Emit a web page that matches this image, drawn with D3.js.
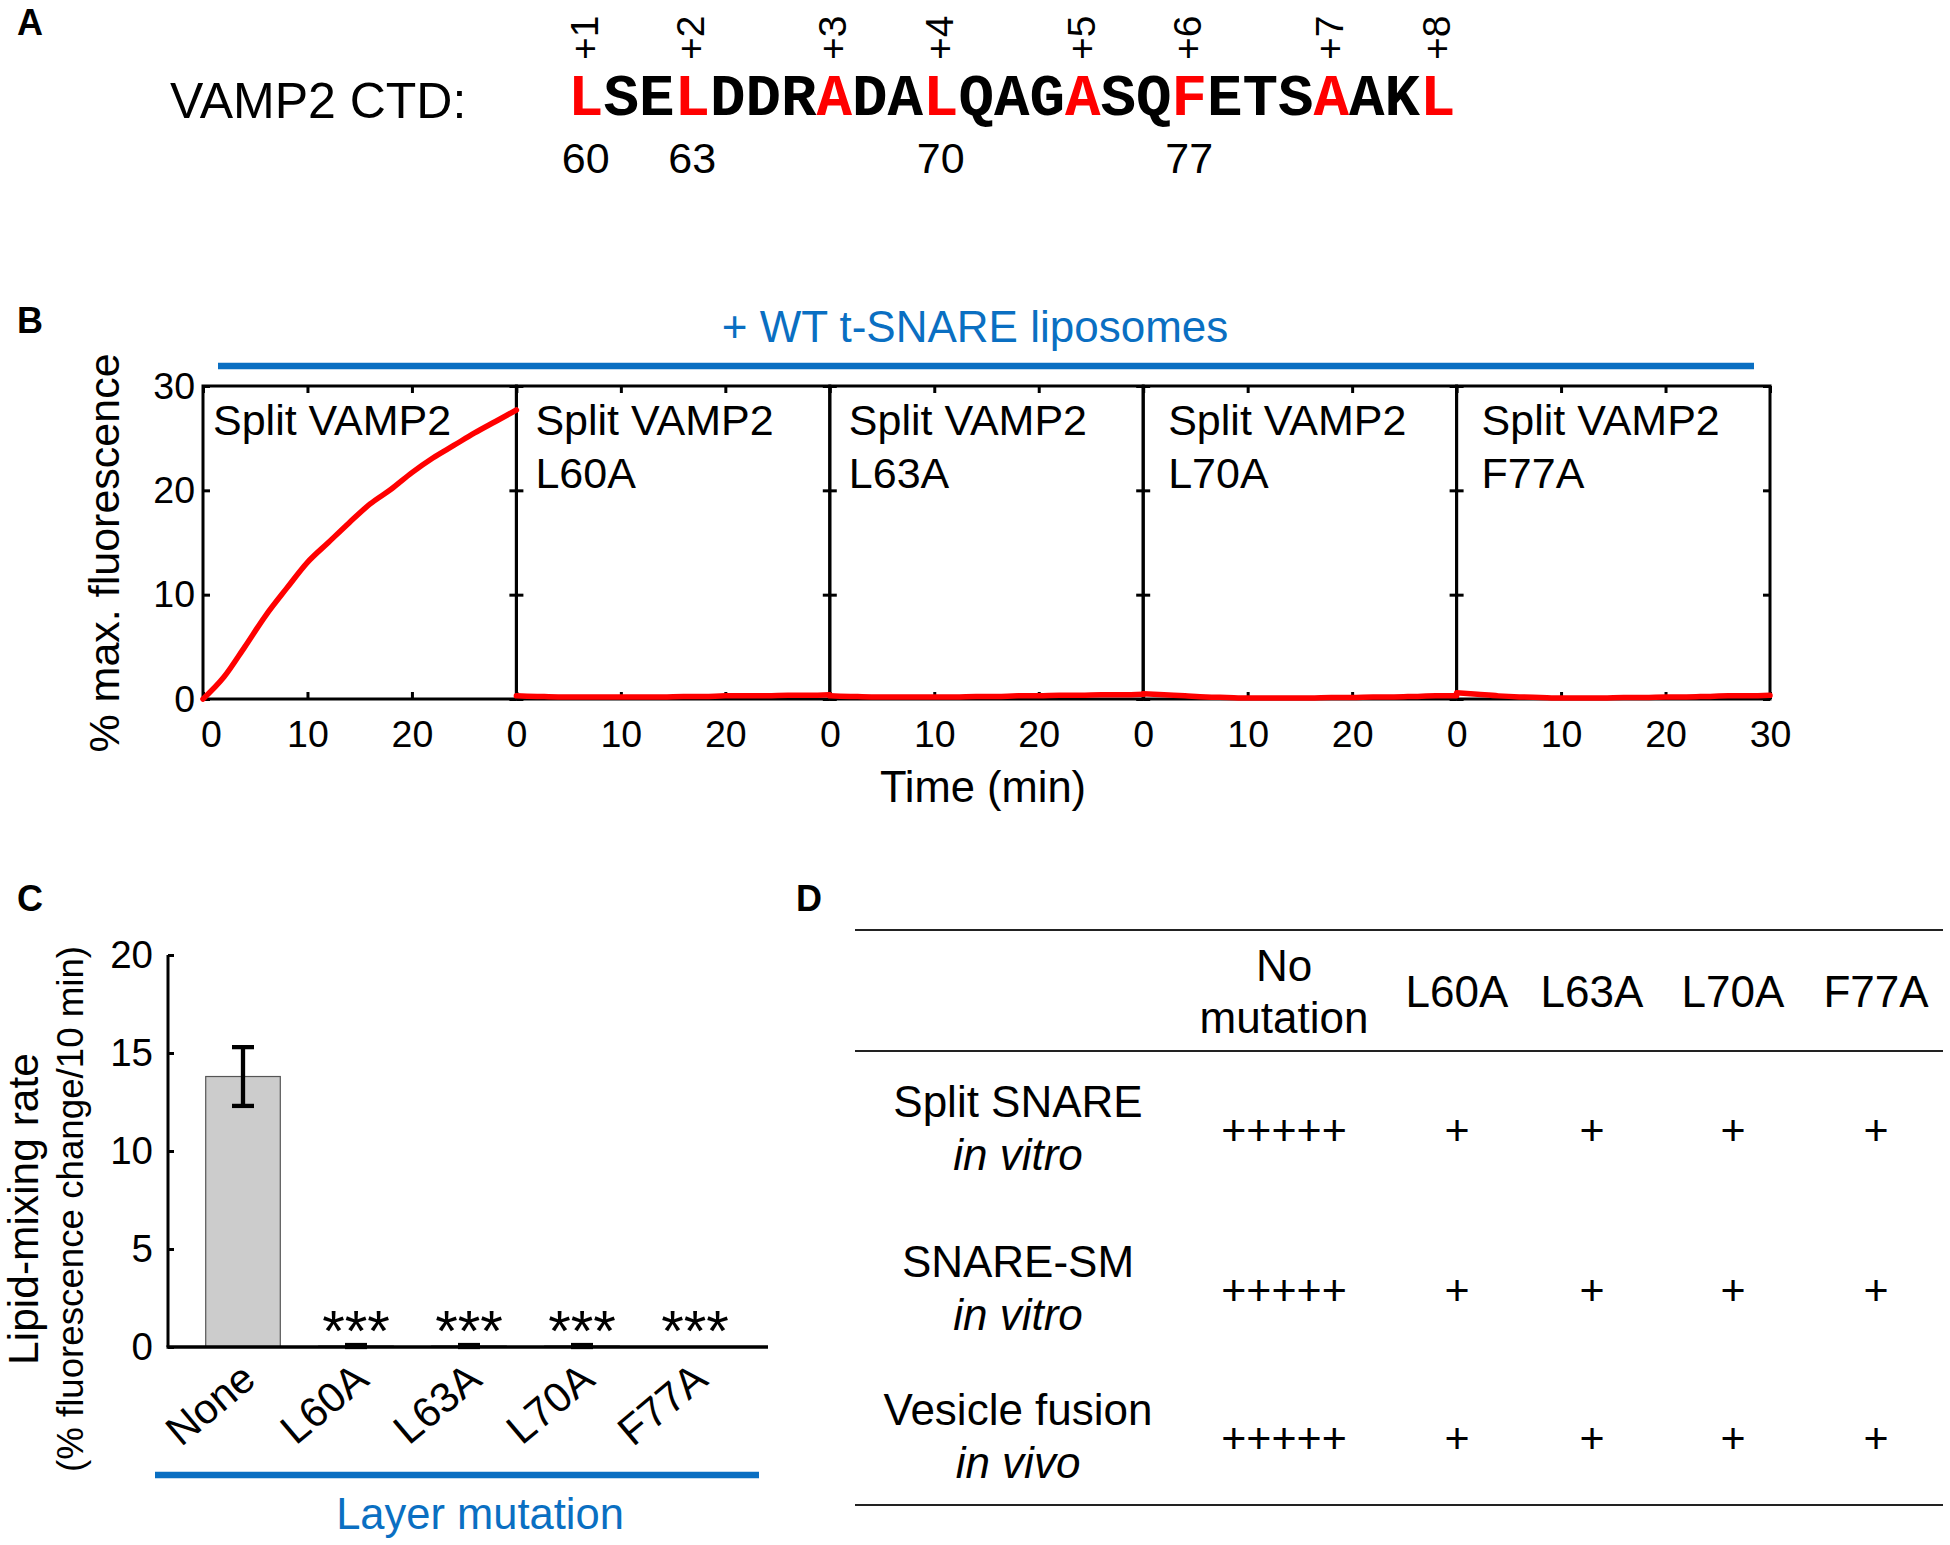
<!DOCTYPE html>
<html><head><meta charset="utf-8">
<script src="https://cdn.jsdelivr.net/npm/d3@7"></script>
<style>
body{margin:0;background:#fff}
svg{display:block}
</style>
</head><body>
<svg id="fig" width="1950" height="1545"></svg>
<script>
// ---------------- DATA ----------------
// Panel A
const sequence = "LSELDDRADALQAGASQFETSAAKL".split("");
const firstResidue = 60;
const layerLabels = ["+1","+2","+3","+4","+5","+6","+7","+8"];
const layerIndex = [0,3,7,10,14,17,21,24];
const numberedIndex = [0,3,10,17];

// Panel B
const panelNames = [["Split VAMP2"],["Split VAMP2","L60A"],["Split VAMP2","L63A"],["Split VAMP2","L70A"],["Split VAMP2","F77A"]];
const timeMin   = [0,2,4,6,8,10,12,14,16,18,20,22,24,26,28,30];
const fluorWT   = [0,2.1,5.0,8.0,10.6,13.1,15.0,16.9,18.7,20.1,21.7,23.1,24.3,25.5,26.6,27.7];
const fluorL60A = [0.3,0.25,0.2,0.2,0.2,0.2,0.2,0.2,0.25,0.25,0.3,0.3,0.3,0.35,0.35,0.4];
const fluorL63A = [0.3,0.25,0.2,0.2,0.2,0.2,0.2,0.25,0.25,0.3,0.3,0.35,0.35,0.4,0.4,0.45];
const fluorL70A = [0.5,0.4,0.3,0.2,0.15,0.1,0.1,0.1,0.1,0.15,0.15,0.2,0.2,0.25,0.3,0.3];
const fluorF77A = [0.6,0.45,0.3,0.2,0.15,0.1,0.1,0.1,0.15,0.15,0.2,0.2,0.25,0.3,0.3,0.35];
const xTicksB = [0,10,20];
const xTicksBLast = [0,10,20,30];
const yTicksB = [0,10,20,30];

// Panel C
const mutations = ["None","L60A","L63A","L70A","F77A"];
const mixingRate = [13.8,0.05,0.05,0.05,0];
const mixingErr  = [1.5,0.05,0.05,0.05,0];
const significance = ["","***","***","***","***"];
const yTicksC = [0,5,10,15,20];

// Panel D
const tableCols = [["No","mutation"],["L60A"],["L63A"],["L70A"],["F77A"]];
const tableRows = [["Split SNARE","in vitro"],["SNARE-SM","in vitro"],["Vesicle fusion","in vivo"]];
const tableCells = [
  ["+++++","+","+","+","+"],
  ["+++++","+","+","+","+"],
  ["+++++","+","+","+","+"]
];

// ---------------- DRAW ----------------
const FONT = '"Liberation Sans",Arial,Helvetica,sans-serif';
const MONO = '"Liberation Mono","Courier New",monospace';
const BLUE = "#0a6fc2";
const RED = "#ff0000";
const svg = d3.select("#fig").attr("font-family",FONT).attr("fill","#000");

function panelLetter(t,x,y){
  svg.append("text").attr("x",x).attr("y",y).attr("font-size",36).attr("font-weight","bold").text(t);
}
panelLetter("A",17,35); panelLetter("B",17,333); panelLetter("C",17,911); panelLetter("D",796,911);

// ----- Panel A -----
svg.append("text").attr("x",170).attr("y",118).attr("font-size",50).text("VAMP2 CTD:");
const charW = 35.5;
const xSeq = d3.scaleLinear().domain([0,sequence.length]).range([568,568+charW*sequence.length]);
const gA = svg.append("g");
gA.selectAll("text.seq").data(sequence).join("text")
  .attr("class","seq")
  .attr("x",(d,i)=>xSeq(i+0.5)).attr("y",115)
  .attr("text-anchor","middle")
  .attr("font-family",MONO)
  .attr("font-weight","bold").attr("font-size",59.2)
  .attr("fill",(d,i)=>layerIndex.includes(i)?RED:"#000")
  .text(d=>d);
gA.selectAll("text.layer").data(layerLabels).join("text")
  .attr("class","layer")
  .attr("transform",(d,i)=>`translate(${xSeq(layerIndex[i]+0.5)+12},60) rotate(-90)`)
  .attr("font-size",39)
  .text(d=>d);
gA.selectAll("text.num").data(numberedIndex).join("text")
  .attr("class","num")
  .attr("x",d=>xSeq(d+0.5)).attr("y",173)
  .attr("text-anchor","middle").attr("font-size",43)
  .text(d=>firstResidue+d);

// ----- Panel B -----
const B = {x0:203, w:313.4, top:386, bot:699};
const nameInset = [10,19,19,25,25];
svg.append("text").attr("x",975).attr("y",342).attr("text-anchor","middle")
  .attr("font-size",44).attr("fill",BLUE).text("+ WT t-SNARE liposomes");
svg.append("line").attr("x1",218).attr("x2",1754).attr("y1",366).attr("y2",366)
  .attr("stroke",BLUE).attr("stroke-width",6.5);

const yB = d3.scaleLinear().domain([0,30]).range([B.bot,B.top]);
const seriesB = [fluorWT,fluorL60A,fluorL63A,fluorL70A,fluorF77A];
function styleAxis(g,size){
  g.attr("font-family",FONT).attr("font-size",size);
  g.selectAll("line").attr("stroke","#000").attr("stroke-width",3);
  g.selectAll("text").attr("fill","#000");
  g.select(".domain").remove();
}
const curveLayer = [];
seriesB.forEach((vals,i)=>{
  const left = B.x0 + i*B.w;
  const xB = d3.scaleLinear().domain([0,30]).range([left,left+B.w]);
  const g = svg.append("g");
  const ticks = i===seriesB.length-1 ? xTicksBLast : xTicksB;
  const gb = g.append("g").attr("transform",`translate(0,${B.bot})`)
    .call(d3.axisBottom(xB).tickValues(ticks).tickSizeInner(-7).tickSizeOuter(0).tickPadding(21));
  styleAxis(gb,37.5);
  if(i===0) gb.selectAll("text").filter(d=>d===0).attr("dx",8);
  const gt = g.append("g").attr("transform",`translate(0,${B.top})`)
    .call(d3.axisTop(xB).tickValues(ticks).tickSizeInner(-7).tickSizeOuter(0).tickFormat(""));
  styleAxis(gt,37.5);
  const gl = g.append("g").attr("transform",`translate(${left},0)`)
    .call(d3.axisLeft(yB).tickValues(yTicksB).tickSizeInner(-7).tickSizeOuter(0).tickPadding(8)
      .tickFormat(i===0?d3.format("d"):""));
  styleAxis(gl,37.5);
  const gr = g.append("g").attr("transform",`translate(${left+B.w},0)`)
    .call(d3.axisRight(yB).tickValues(yTicksB).tickSizeInner(-7).tickSizeOuter(0).tickFormat(""));
  styleAxis(gr,37.5);
  g.append("rect").attr("x",left).attr("y",B.top).attr("width",B.w).attr("height",B.bot-B.top)
    .attr("fill","none").attr("stroke","#000").attr("stroke-width",3);
  const nm = g.append("text").attr("font-size",43);
  panelNames[i].forEach((t,k)=>{
    nm.append("tspan").attr("x",left+nameInset[i]).attr("y",435+k*53).text(t);
  });
  curveLayer.push({vals,xB});
});
curveLayer.forEach(({vals,xB})=>{
  const line = d3.line().x((d,j)=>xB(timeMin[j])).y(d=>yB(d)).curve(d3.curveMonotoneX);
  svg.append("path").datum(vals).attr("d",line).attr("fill","none")
    .attr("stroke",RED).attr("stroke-width",5.5).attr("stroke-linecap","round").attr("stroke-linejoin","round");
});
svg.append("text").attr("transform",`translate(119,553) rotate(-90)`).attr("text-anchor","middle")
  .attr("font-size",43).text("% max. fluorescence");
svg.append("text").attr("x",983).attr("y",802).attr("text-anchor","middle")
  .attr("font-size",43.5).text("Time (min)");

// ----- Panel C -----
const C = {left:168, right:768, bot:1347, top:955};
const xC = d3.scaleBand().domain(mutations).range([186.5,751.5]).paddingInner(0.34).paddingOuter(0.17);
const yC = d3.scaleLinear().domain([0,20]).range([C.bot,C.top]);
const gC = svg.append("g");
gC.selectAll("rect.bar").data(mutations).join("rect").attr("class","bar")
  .attr("x",d=>xC(d)).attr("width",xC.bandwidth())
  .attr("y",(d,i)=>yC(mixingRate[i])).attr("height",(d,i)=>C.bot-yC(mixingRate[i]))
  .attr("fill","#cccccc").attr("stroke","#555").attr("stroke-width",1.2);
const errG = gC.selectAll("g.err").data(mutations.filter((d,i)=>mixingErr[i]>0)).join("g").attr("class","err");
errG.each(function(d){
  const i = mutations.indexOf(d);
  const cx = xC(d)+xC.bandwidth()/2;
  const g = d3.select(this);
  const hi = yC(mixingRate[i]+mixingErr[i]), lo = yC(mixingRate[i]-mixingErr[i]);
  g.append("line").attr("x1",cx).attr("x2",cx).attr("y1",hi).attr("y2",lo).attr("stroke","#000").attr("stroke-width",4.3);
  [hi,lo].forEach(y=>g.append("line").attr("x1",cx-11).attr("x2",cx+11).attr("y1",y).attr("y2",y)
    .attr("stroke","#000").attr("stroke-width",4.3));
});
const gyC = gC.append("g").attr("transform",`translate(${C.left},0)`)
  .call(d3.axisLeft(yC).tickValues(yTicksC).tickSizeInner(-6).tickSizeOuter(0).tickPadding(15));
styleAxis(gyC,38.5);
gC.append("line").attr("x1",C.left).attr("x2",C.left).attr("y1",C.top).attr("y2",C.bot).attr("stroke","#000").attr("stroke-width",3);
gC.append("line").attr("x1",C.left-1.5).attr("x2",C.right).attr("y1",C.bot).attr("y2",C.bot).attr("stroke","#000").attr("stroke-width",3.5);
gC.selectAll("text.sig").data(mutations).join("text").attr("class","sig")
  .attr("x",d=>xC(d)+xC.bandwidth()/2).attr("y",1351)
  .attr("text-anchor","middle").attr("font-size",58)
  .text((d,i)=>significance[i]);
gC.selectAll("text.xl").data(mutations).join("text").attr("class","xl")
  .attr("transform",d=>`translate(${xC(d)+xC.bandwidth()/2+15},1383) rotate(-40)`)
  .attr("text-anchor","end").attr("font-size",42).text(d=>d);
svg.append("line").attr("x1",155).attr("x2",759).attr("y1",1475).attr("y2",1475)
  .attr("stroke",BLUE).attr("stroke-width",6.5);
svg.append("text").attr("x",480).attr("y",1529).attr("text-anchor","middle")
  .attr("font-size",43.5).attr("fill",BLUE).text("Layer mutation");
svg.append("text").attr("transform","translate(38,1209) rotate(-90)").attr("text-anchor","middle")
  .attr("font-size",42.5).text("Lipid-mixing rate");
svg.append("text").attr("transform","translate(83,1209) rotate(-90)").attr("text-anchor","middle")
  .attr("font-size",36.7).text("(% fluorescence change/10 min)");

// ----- Panel D -----
const colKeys = tableCols.map(c=>c.join(" "));
const xD = d3.scaleOrdinal().domain(colKeys).range([1284,1457,1592,1733,1876]);
const yD = d3.scaleOrdinal().domain(tableRows.map(r=>r.join(" "))).range([1145,1305,1453]);
[930,1051,1505].forEach(y=>svg.append("line").attr("x1",855).attr("x2",1943).attr("y1",y).attr("y2",y)
  .attr("stroke","#222").attr("stroke-width",2.2));
const gD = svg.append("g").attr("font-size",44).attr("text-anchor","middle");
tableCols.forEach((c,j)=>{
  const t = gD.append("text");
  if(c.length===1){ t.append("tspan").attr("x",xD(colKeys[j])).attr("y",1007).text(c[0]); }
  else c.forEach((s,k)=>t.append("tspan").attr("x",xD(colKeys[j])).attr("y",981+k*52).text(s));
});
tableRows.forEach((r,i)=>{
  const key = r.join(" ");
  const yb = yD(key);
  gD.append("text").attr("x",1018).attr("y",yb-28).text(r[0]);
  gD.append("text").attr("x",1018).attr("y",yb+25).attr("font-style","italic").text(r[1]);
  tableCells[i].forEach((v,j)=>{
    gD.append("text").attr("x",xD(colKeys[j])).attr("y",yb).attr("font-size",43).text(v);
  });
});
</script>
</body></html>
